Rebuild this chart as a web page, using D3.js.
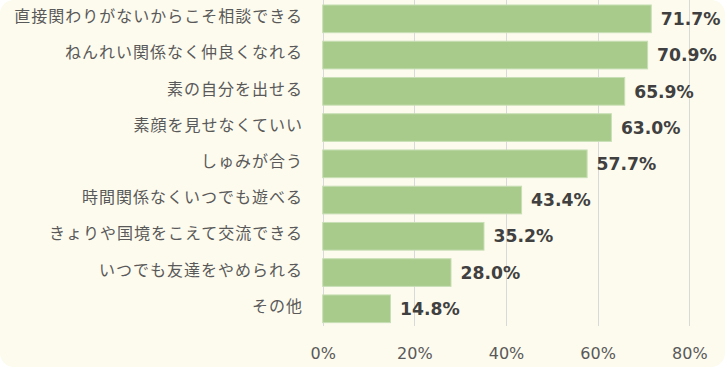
<!DOCTYPE html>
<html><head><meta charset="utf-8">
<script src="https://cdn.jsdelivr.net/npm/d3@7"></script>
<style>
html,body{margin:0;padding:0;background:#ffffff;}
svg{display:block;}
</style></head>
<body>
<svg id="chart" width="725" height="367"></svg>
<script>
const categories = ["直接関わりがないからこそ相談できる","ねんれい関係なく仲良くなれる","素の自分を出せる","素顔を見せなくていい","しゅみが合う","時間関係なくいつでも遊べる","きょりや国境をこえて交流できる","いつでも友達をやめられる","その他"];
const values = [71.7,70.9,65.9,63.0,57.7,43.4,35.2,28.0,14.8];
const ticks = [0,20,40,60,80];

const W = 725, H = 367;
const svg = d3.select("#chart");
svg.append("rect").attr("x",0).attr("y",0).attr("width",W).attr("height",H)
  .attr("rx",14).attr("ry",14).attr("fill","#fdfbee");

const x = d3.scaleLinear().domain([0,80]).range([322.7,689.3]);
const y = d3.scaleBand().domain(categories).range([0.7,326.9]).paddingInner(0.236).paddingOuter(0.118);

// gridlines
svg.append("g").selectAll("line").data(ticks).join("line")
  .attr("x1",d=>Math.round(x(d))+0.5).attr("x2",d=>Math.round(x(d))+0.5)
  .attr("y1",0).attr("y2",326)
  .attr("stroke","#d9d9d9").attr("stroke-width",1);

// x axis tick labels
const xAxis = d3.axisBottom(x).tickValues(ticks).tickFormat(d=>d+"%").tickSize(0);
const gx = svg.append("g").attr("transform","translate(0,345)").call(xAxis);
gx.select(".domain").remove();
gx.selectAll("text").attr("fill","#595959").attr("font-family","'DejaVu Sans',sans-serif")
  .attr("font-size",16).attr("dy","0.71em");

// bars
svg.append("g").selectAll("rect").data(values).join("rect")
  .attr("x",x(0)).attr("y",(d,i)=>y(categories[i]))
  .attr("width",d=>x(d)-x(0)).attr("height",y.bandwidth())
  .attr("fill","#a8cb8c").attr("stroke","#c8dfb5").attr("stroke-width",1);

// category labels
const yAxis = d3.axisLeft(y).tickSize(0).tickPadding(0);
const gy = svg.append("g").attr("transform","translate(303,0)").call(yAxis);
gy.select(".domain").remove();
gy.selectAll("text").attr("fill","#595959")
  .attr("font-family","'Noto Sans CJK JP',sans-serif").attr("font-size",16)
  .attr("letter-spacing","1px").attr("dy","0.2em");

// value labels
svg.append("g").selectAll("text").data(values).join("text")
  .attr("x",d=>x(d)+9.5).attr("y",(d,i)=>y(categories[i])+y.bandwidth()/2)
  .attr("dy","0.36em")
  .attr("fill","#404040").attr("font-family","'DejaVu Sans',sans-serif")
  .attr("font-weight","bold").attr("font-size",17.2)
  .text(d=>d.toFixed(1)+"%");
</script>
</body></html>
